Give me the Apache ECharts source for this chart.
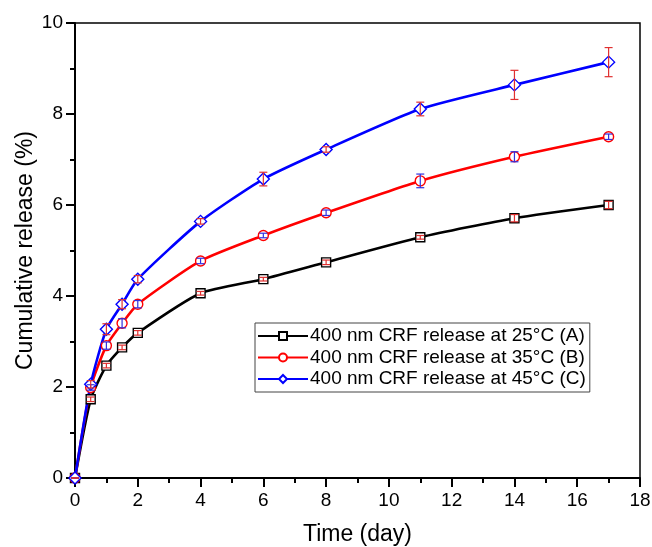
<!DOCTYPE html>
<html><head><meta charset="utf-8">
<script src="https://cdn.jsdelivr.net/npm/echarts@6/dist/echarts.min.js"></script>
<style>html,body{margin:0;padding:0;background:#fff}#c{width:652px;height:547px}</style>
</head><body><div id="c"></div>
<script>
const days = [0, 0.5, 1, 1.5, 2, 4, 6, 8, 11, 14, 17];
const relA = [0, 1.73, 2.47, 2.87, 3.19, 4.06, 4.37, 4.74, 5.29, 5.71, 6.00];
const relB = [0, 1.99, 2.91, 3.40, 3.82, 4.77, 5.33, 5.83, 6.53, 7.06, 7.50];
const relC = [0, 2.06, 3.27, 3.82, 4.37, 5.64, 6.57, 7.22, 8.11, 8.64, 9.14];
const errA = [0, 0.05, 0.05, 0.05, 0.05, 0.04, 0.04, 0.05, 0.04, 0.08, 0.08];
const errB = [0, 0.06, 0.08, 0.10, 0.08, 0.06, 0.05, 0.06, 0.15, 0.11, 0.06];
const errC = [0, 0.08, 0.12, 0.10, 0.08, 0.06, 0.15, 0.06, 0.15, 0.32, 0.32];
const names = ['400 nm CRF release at 25°C (A)', '400 nm CRF release at 35°C (B)', '400 nm CRF release at 45°C (C)'];
const xTicks = [0, 2, 4, 6, 8, 10, 12, 14, 16, 18];
const yTicks = [0, 2, 4, 6, 8, 10];

const FONT = '"Liberation Sans", Arial, sans-serif';
const chart = echarts.init(document.getElementById('c'));

function pts(vals) { return days.map((d, i) => [d, vals[i]]); }
function errData(vals, errs) { return days.map((d, i) => [d, vals[i] - errs[i], vals[i] + errs[i]]); }
function errSeries(vals, errs, color) {
  return {
    type: 'custom', z: 10, silent: true,
    data: errData(vals, errs),
    encode: { x: 0, y: [1, 2] },
    renderItem: function (params, api) {
      const lo = api.coord([api.value(0), api.value(1)]);
      const hi = api.coord([api.value(0), api.value(2)]);
      const w = 4;
      const st = { stroke: color, lineWidth: 1.2, fill: null };
      return {
        type: 'group', children: [
          { type: 'line', shape: { x1: lo[0], y1: lo[1], x2: hi[0], y2: hi[1] }, style: st },
          { type: 'line', shape: { x1: lo[0] - w, y1: lo[1], x2: lo[0] + w, y2: lo[1] }, style: st },
          { type: 'line', shape: { x1: hi[0] - w, y1: hi[1], x2: hi[0] + w, y2: hi[1] }, style: st }
        ]
      };
    }
  };
}
function lineSeries(name, vals, color, symbol, size) {
  return {
    name: name, type: 'line', data: pts(vals), smooth: 0.2,
    symbol: symbol, symbolSize: size, showAllSymbol: true,
    lineStyle: { color: color, width: 2.6 },
    itemStyle: { color: '#fff', borderColor: color, borderWidth: 1.4 },
    color: color, z: 3
  };
}

const axisLabelStyle = { color: '#000', fontSize: 19, fontFamily: FONT };

chart.setOption({
  animation: false,
  backgroundColor: '#fff',
  grid: { left: 75, right: 12, top: 23, bottom: 69, show: true, borderColor: '#000', borderWidth: 1.5,
          containLabel: false, outerBoundsMode: 'none' },
  legend: {
    data: names,
    orient: 'vertical', left: 255, top: 323,
    itemWidth: 50, itemHeight: 10, itemGap: 1.5,
    backgroundColor: '#fff', borderColor: '#444', borderWidth: 1,
    padding: [3, 4, 3, 2],
    textStyle: { color: '#000', fontSize: 19, fontFamily: FONT, lineHeight: 20, padding: [0, 0, 0, -3] }
  },
  xAxis: {
    type: 'value', min: 0, max: 18, interval: 2,
    name: 'Time (day)', nameLocation: 'middle', nameGap: 45, nameMoveOverlap: false,
    nameTextStyle: { color: '#000', fontSize: 23, fontFamily: FONT },
    axisLine: { lineStyle: { color: '#000', width: 2 } },
    axisTick: { show: true, length: 9, lineStyle: { color: '#000', width: 2 } },
    minorTick: { show: true, splitNumber: 2, length: 5, lineStyle: { color: '#000', width: 2 } },
    axisLabel: Object.assign({ margin: 13, formatter: v => xTicks.includes(v) ? String(v) : '' }, axisLabelStyle),
    splitLine: { show: false }
  },
  yAxis: {
    type: 'value', min: 0, max: 10, interval: 2,
    name: 'Cumulative release (%)', nameLocation: 'middle', nameGap: 38, nameMoveOverlap: false,
    nameTextStyle: { color: '#000', fontSize: 23, fontFamily: FONT },
    axisLine: { show: true, lineStyle: { color: '#000', width: 2 } },
    axisTick: { show: true, length: 9, lineStyle: { color: '#000', width: 2 } },
    minorTick: { show: true, splitNumber: 2, length: 5, lineStyle: { color: '#000', width: 2 } },
    axisLabel: Object.assign({ margin: 12, formatter: v => yTicks.includes(v) ? String(v) : '' }, axisLabelStyle),
    splitLine: { show: false }
  },
  series: [
    lineSeries(names[0], relA, '#000000', 'rect', 9),
    lineSeries(names[1], relB, '#ff0000', 'circle', 10),
    lineSeries(names[2], relC, '#0000ff', 'diamond', 12),
    errSeries(relA, errA, '#e03030'),
    errSeries(relB, errB, '#3030e0'),
    errSeries(relC, errC, '#e03030')
  ]
});
</script>
</body></html>
